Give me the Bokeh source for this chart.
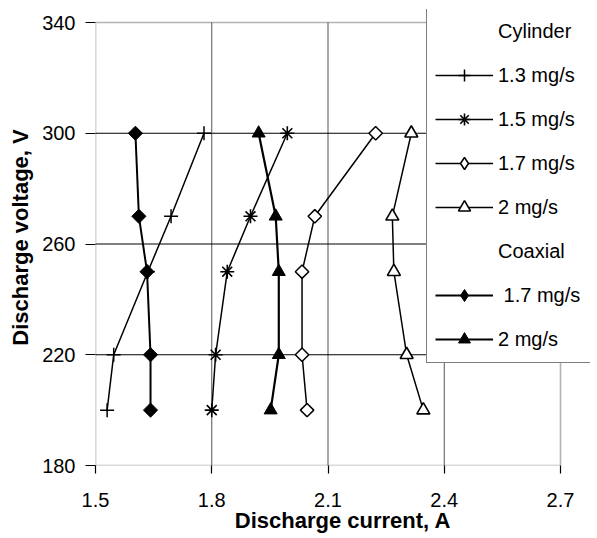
from bokeh.plotting import figure
from bokeh.models import FixedTicker, Legend, LegendItem, Range1d, BoxAnnotation
from bokeh.embed import file_html
from bokeh.resources import INLINE
import math

# ---- data ----
voltage = [300, 270, 250, 220, 200]
cyl_13 = [1.78, 1.695, 1.635, 1.547, 1.53]
cyl_15 = [1.995, 1.90, 1.84, 1.81, 1.80]
cyl_17 = [2.223, 2.066, 2.033, 2.033, 2.046]
cyl_20 = [2.315, 2.266, 2.270, 2.303, 2.346]
coax_17 = [1.603, 1.612, 1.633, 1.642, 1.642]
coax_20 = [1.921, 1.965, 1.973, 1.973, 1.952]

x_ticks = [1.5, 1.8, 2.1, 2.4, 2.7]
y_ticks = [180, 220, 260, 300, 340]
x_min, x_max = 1.5, 2.7
y_min, y_max = 180, 340

FONT = "Liberation Sans"
W, H = 597, 538
FR_L, FR_R, FR_T, FR_B = 95, 560, 22, 465      # data frame in pixels
EXT_R, EXT_T = 590, 9                           # extended canvas frame (legend overhang)

xs = (x_max - x_min) / (FR_R - FR_L)
ys = (y_max - y_min) / (FR_B - FR_T)

p = figure(width=W, height=H, output_backend="svg", toolbar_location=None,
           x_range=Range1d(x_min, x_max + (EXT_R - FR_R) * xs),
           y_range=Range1d(y_min, y_max + (FR_T - EXT_T) * ys),
           min_border_left=FR_L, min_border_right=W - EXT_R,
           min_border_top=EXT_T, min_border_bottom=H - FR_B)

p.background_fill_color = "white"
p.border_fill_color = "white"
p.outline_line_color = None
p.xgrid.visible = False
p.ygrid.visible = False

for ax in (p.xaxis[0], p.yaxis[0]):
    ax.axis_line_color = None
    ax.major_tick_line_color = "black"
    ax.major_tick_line_width = 1.2
    ax.major_tick_in = 0
    ax.minor_tick_line_color = None
    ax.major_label_text_font = FONT
    ax.major_label_text_font_size = "20px"
    ax.major_label_text_color = "black"
    ax.axis_label_text_font = FONT
    ax.axis_label_text_font_size = "22px"
    ax.axis_label_text_font_style = "bold"
    ax.axis_label_text_color = "black"

p.xaxis.ticker = FixedTicker(ticks=x_ticks)
p.yaxis.ticker = FixedTicker(ticks=y_ticks)
p.xaxis.axis_label = "Discharge current, A"
p.yaxis.axis_label = "Discharge voltage, V"
p.xaxis.major_tick_out = 8
p.yaxis.major_tick_out = 10
p.xaxis.major_label_standoff = 19
p.yaxis.major_label_standoff = 10
p.xaxis.axis_label_standoff = -2
p.yaxis.axis_label_standoff = 6

# grid lines, limited to the data frame
gx = x_ticks[1:-1]
gy = y_ticks[1:-1]
p.segment(x0=gx, y0=[y_min] * len(gx), x1=gx, y1=[y_max] * len(gx),
          line_color="#555555", line_width=1)
p.segment(x0=[x_min] * len(gy), y0=gy, x1=[x_max] * len(gy), y1=gy,
          line_color="black", line_width=1)

# frame box
p.add_layout(BoxAnnotation(left=x_min, right=x_max, bottom=y_min, top=y_max,
                           fill_alpha=0, line_color="black", line_width=1.6))

LW = 1.5
MS = 13
NAN = [float("nan")]
items = []

dummy1 = p.line(x=[], y=[], line_alpha=0)
items.append(LegendItem(label="Cylinder", renderers=[dummy1]))

l = p.line(cyl_13, voltage, line_color="black", line_width=LW)
s = p.scatter(cyl_13, voltage, marker="cross", size=14, line_color="black", line_width=1.5)
items.append(LegendItem(label="1.3 mg/s", renderers=[l, s]))

l = p.line(cyl_15, voltage, line_color="black", line_width=LW)
s = p.scatter(cyl_15, voltage, marker="asterisk", size=14, line_color="black", line_width=1.6)
items.append(LegendItem(label="1.5 mg/s", renderers=[l, s]))

l = p.line(cyl_17, voltage, line_color="black", line_width=LW)
s = p.scatter(cyl_17, voltage, marker="square", angle=math.pi / 4, size=9.5,
              line_color="black", fill_color="white", line_width=1.5)
sl = p.scatter(x=NAN, y=NAN, marker="diamond", line_color="black", fill_color="white", line_width=1.5)
items.append(LegendItem(label="1.7 mg/s", renderers=[l, sl]))

l = p.line(cyl_20, voltage, line_color="black", line_width=LW)
s = p.scatter(cyl_20, voltage, marker="triangle", size=MS,
              line_color="black", fill_color="white", line_width=1.6)
items.append(LegendItem(label="2 mg/s", renderers=[l, s]))

dummy2 = p.line(x=[], y=[], line_alpha=0)
items.append(LegendItem(label="Coaxial", renderers=[dummy2]))

l = p.line(coax_17, voltage, line_color="black", line_width=2)
s = p.scatter(coax_17, voltage, marker="square", angle=math.pi / 4, size=10,
              line_color="black", fill_color="black", line_width=1)
sl = p.scatter(x=NAN, y=NAN, marker="diamond", line_color="black", fill_color="black", line_width=1)
items.append(LegendItem(label="\u00a01.7 mg/s", renderers=[l, sl]))

l = p.line(coax_20, voltage, line_color="black", line_width=2.2)
s = p.scatter(coax_20, voltage, marker="triangle", size=MS,
              line_color="black", fill_color="black", line_width=1)
items.append(LegendItem(label="2 mg/s", renderers=[l, s]))

legend = Legend(items=items, location=(426 - FR_L, FR_B - 363))
legend.label_text_font = FONT
legend.label_text_font_size = "20px"
legend.label_text_color = "black"
legend.label_height = 20
legend.glyph_height = 30
legend.glyph_width = 58
legend.label_standoff = 5
legend.label_width = 85
legend.spacing = 14
legend.padding = 8
legend.border_line_color = "black"
legend.border_line_width = 1.5
legend.background_fill_color = "white"
legend.background_fill_alpha = 1.0
legend.click_policy = "none"
p.add_layout(legend, "center")

open("out.html", "w").write(file_html(p, INLINE))
